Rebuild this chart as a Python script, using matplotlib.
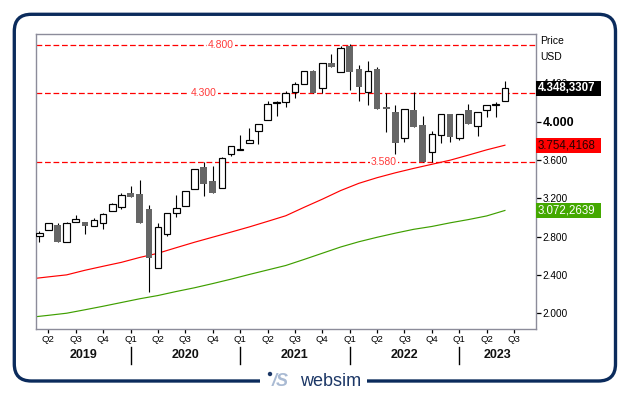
import numpy as np
import pandas as pd
import matplotlib
matplotlib.use("Agg")
import matplotlib.pyplot as plt
from matplotlib.patches import FancyBboxPatch, Rectangle, Circle
from matplotlib.transforms import Affine2D, blended_transform_factory

plt.rcParams['font.family'] = ['Liberation Sans', 'DejaVu Sans']

# ---------------- data ----------------
first_month = '2019-03'
opens = [2805, 2864, 2920, 2738, 2955, 2951, 2906, 2937, 3063, 3105,
         3251, 3244, 3084, 2467, 2822, 3049, 3119, 3293, 3526, 3380,
         3303, 3659, 3707, 3774, 3903, 4014, 4200, 4202, 4314, 4390,
         4530, 4356, 4610, 4516, 4795, 4551, 4307, 4551, 4153, 4105,
         3826, 4122, 3965, 3680, 3861, 4077, 3826, 4122, 3955, 4122,
         4176, 4220]
highs = [2857, 2940, 2937, 2951, 3025, 2951, 2990, 3049, 3153, 3251,
         3331, 3390, 3129, 2944, 3042, 3234, 3272, 3502, 3575, 3537,
         3634, 3749, 3861, 3930, 3972, 4216, 4220, 4324, 4418, 4530,
         4540, 4610, 4708, 4795, 4812, 4592, 4634, 4575, 4296, 4175,
         4132, 4307, 4059, 3902, 4077, 4077, 4077, 4181, 4105, 4171,
         4209, 4425]
lows = [2739, 2864, 2746, 2739, 2955, 2829, 2906, 2878, 3063, 3084,
        3216, 2944, 2223, 2467, 2808, 3000, 3119, 3293, 3226, 3258,
        3303, 3645, 3700, 3774, 3763, 4014, 4056, 4157, 4251, 4390,
        4296, 4296, 4568, 4516, 4328, 4220, 4170, 4129, 3896, 3662,
        3784, 3948, 3575, 3575, 3774, 3784, 3809, 3972, 3854, 4052,
        4052, 4220]
closes = [2833, 2937, 2746, 2937, 2979, 2913, 2969, 3035, 3140, 3234,
          3216, 2944, 2578, 2903, 3042, 3094, 3272, 3502, 3352, 3258,
          3617, 3749, 3711, 3809, 3972, 4181, 4204, 4296, 4390, 4530,
          4296, 4610, 4568, 4767, 4516, 4366, 4533, 4129, 4129, 3773,
          4132, 3948, 3575, 3868, 4077, 3836, 4077, 3972, 4105, 4171,
          4181, 4348.3307]

ma_months = ['2019-02', '2019-04', '2019-06', '2019-08', '2019-10', '2019-12',
             '2020-02', '2020-04', '2020-06', '2020-08', '2020-10', '2020-12',
             '2021-02', '2021-04', '2021-06', '2021-08', '2021-10', '2021-12',
             '2022-02', '2022-04', '2022-06', '2022-08', '2022-10', '2022-12',
             '2023-02', '2023-04', '2023-06']
ma_red = [2356, 2378, 2399, 2447, 2489, 2530, 2581, 2625, 2683, 2740, 2793,
          2846, 2900, 2958, 3017, 3105, 3190, 3280, 3356, 3415, 3466, 3512,
          3555, 3598, 3651, 3706, 3754.4168]
ma_green = [1955, 1976, 1998, 2034, 2071, 2110, 2149, 2183, 2225, 2264, 2308,
            2354, 2403, 2450, 2497, 2560, 2625, 2690, 2745, 2792, 2835, 2875,
            2905, 2943, 2977, 3015, 3072.2639]

levels = [4800, 4300, 3580]
y_ticks = [2000, 2400, 2800, 3200, 3600, 4000, 4400]
quarter_labels = ['Q1', 'Q2', 'Q3', 'Q4']

# ---------------- helpers ----------------
def month_index(m):
    return (pd.Period(m, 'M') - pd.Period(first_month, 'M')).n

def eu(v, dec=0):
    s = f'{v:,.{dec}f}'
    return s.replace(',', 'X').replace('.', ',').replace('X', '.')

o = np.array(opens, float); h = np.array(highs, float)
l = np.array(lows, float); c = np.array(closes, float)
x = np.arange(len(o))

W, H = 630, 396
fig = plt.figure(figsize=(W / 100, H / 100), dpi=100)
fig.patch.set_facecolor('white')
ax_l, ax_r, ax_t, ax_b = 35.7, 535.5, 34.3, 329.0
ax = fig.add_axes([ax_l / W, 1 - ax_b / H, (ax_r - ax_l) / W, (ax_b - ax_t) / H])

xmin, xmax = -0.39, 54.35
ax.set_xlim(xmin, xmax)
ax.set_ylim(1833, 4914)

for sp in ax.spines.values():
    sp.set_color('#8c8c9a')
    sp.set_linewidth(1.0)

# candles
up = c >= o
bottoms = np.minimum(o, c)
heights = np.abs(c - o)
ax.vlines(x, l, h, color='black', lw=0.8, zorder=3)
ax.bar(x[up], heights[up], bottom=bottoms[up], width=0.72, facecolor='white',
       edgecolor='black', linewidth=0.85, zorder=4)
ax.bar(x[~up], heights[~up], bottom=bottoms[~up], width=0.72, color='#666666',
       linewidth=0, zorder=4)

# moving averages
ma_x = [month_index(m) for m in ma_months]
ax.plot(ma_x, ma_red, color='#ff0000', lw=0.85, zorder=2)
ax.plot(ma_x, ma_green, color='#3f9f00', lw=0.85, zorder=2)

# horizontal levels
level_label_x = [19.9, 18.0, 37.75]
for lv, lx in zip(levels, level_label_x):
    ax.axhline(lv, color='#ff0000', lw=0.9, dashes=(4.6, 2.2), zorder=1.5)
    ax.text(lx, lv, eu(lv), color='#ff3a3a', fontsize=7.5, ha='center', va='center',
            bbox=dict(fc='white', ec='none', pad=1.0), zorder=2.5)

# y axis (right)
ax.yaxis.tick_right()
ax.set_yticks(y_ticks)
ax.set_yticklabels([eu(v) for v in y_ticks])
ax.tick_params(axis='y', length=3.3, width=0.9, pad=1.6, labelsize=7.2, color='black')
for lab in ax.get_yticklabels():
    if lab.get_text() == '4.000':
        lab.set_fontweight('bold')
        lab.set_fontsize(9)

# x axis quarters
periods = pd.period_range(first_month, periods=int(xmax) + 1, freq='M')
qpos = [i for i, p in enumerate(periods) if p.month in (1, 4, 7, 10)]
ax.set_xticks(qpos)
ax.set_xticklabels([quarter_labels[(periods[i].month - 1) // 3] for i in qpos])
ax.tick_params(axis='x', length=3, width=0.9, pad=1.5, labelsize=6.8, color='black')

# years
blend = blended_transform_factory(ax.transData, ax.transAxes)
year_starts = [i for i, p in enumerate(periods) if p.month == 1]
bounds = [xmin] + year_starts + [xmax]
years = sorted(set(p.year for p in periods))
for k, yr in enumerate(years):
    ax.text((bounds[k] + bounds[k + 1]) / 2, -0.088, str(yr), transform=blend,
            ha='center', va='center', fontsize=9, fontweight='bold', color='#111111')
for ys in year_starts:
    ax.plot([ys, ys], [-0.061, -0.119], transform=blend, color='black', lw=1.0, clip_on=False)

# price / USD
ax.text(1.009, 0.977, 'Price', transform=ax.transAxes, fontsize=7.5, va='center', ha='left')
ax.text(1.009, 0.923, 'USD', transform=ax.transAxes, fontsize=7.5, va='center', ha='left')

# value boxes
bl = blended_transform_factory(ax.transAxes, ax.transData)
box_w = (601 - ax_r) / (ax_r - ax_l)
px_per_unit = (ax_b - ax_t) / (4914 - 1833)
box_h = 14.6 / px_per_unit
boxes = [(closes[-1], '#000000', 'white', 'bold'),
         (ma_red[-1], '#ff0000', '#2a0000', 'normal'),
         (ma_green[-1], '#44a800', 'white', 'normal')]
for val, fc, tc, fw in boxes:
    ax.add_patch(Rectangle((1.0, val - box_h / 2), box_w, box_h, transform=bl,
                           fc=fc, ec='none', clip_on=False, zorder=10))
    ax.text(1.004, val, eu(val, 4), transform=bl, color=tc, fontsize=8.3, fontweight=fw,
            va='center', ha='left', zorder=11, clip_on=False)

# outer frame
pix = Affine2D().scale(1 / W, -1 / H).translate(0, 1) + fig.transFigure
frame = FancyBboxPatch((14.3, 14.3), 601.2, 366.7, boxstyle='round,pad=0,rounding_size=17',
                       transform=pix, fill=False, ec='#0b2b5c', lw=2.4, zorder=1)
fig.add_artist(frame)
fig.add_artist(Rectangle((260, 375), 107, 12, transform=pix, fc='white', ec='none', zorder=2))
fig.add_artist(Circle((270, 374), 2.2, transform=pix, fc='#1c3766', ec='none', zorder=3))
fig.text(272, 382, '/S', transform=pix, fontsize=13, fontstyle='italic', fontweight='bold',
         color='#a9bad3', ha='left', va='center', zorder=3)
fig.text(300, 381, 'websim', transform=pix, fontsize=13, color='#1c3766',
         ha='left', va='center', zorder=3)

fig.savefig('out.png', dpi=100, facecolor='white')
